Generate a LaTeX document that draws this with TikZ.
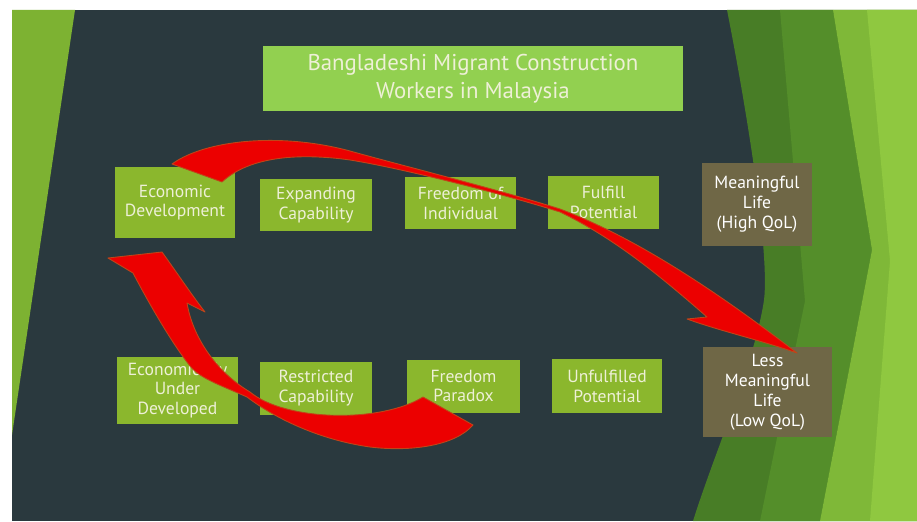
\documentclass[tikz,border=0pt]{standalone}
\usepackage{fontspec}
\setmainfont{PT Sans}
\usetikzlibrary{shapes}
\definecolor{slate}{RGB}{42,57,62}
\definecolor{boxgreen}{RGB}{139,183,45}
\definecolor{titlegreen}{RGB}{146,208,80}
\definecolor{boxbrown}{RGB}{111,103,70}
\definecolor{cream}{RGB}{238,240,215}
\definecolor{darkleaf}{RGB}{72,125,38}
\definecolor{midleaf}{RGB}{84,142,42}
\definecolor{lightleaf}{RGB}{127,184,56}
\definecolor{brightleaf}{RGB}{143,200,64}
\definecolor{edgeleaf}{RGB}{125,178,50}
\definecolor{arrowred}{RGB}{236,0,0}
\definecolor{arrowedge}{RGB}{190,70,25}
\tikzstyle{gbox}=[rectangle,fill=boxgreen,text=cream,align=center,inner sep=2pt,font=\fontsize{10}{11.3}\selectfont]
\tikzstyle{bbox}=[gbox,fill=boxbrown,text=white]
\tikzstyle{tbox}=[gbox,fill=titlegreen,font=\fontsize{13}{16}\selectfont]
\tikzstyle{redarrow}=[fill=arrowred,draw=arrowedge,line width=0.5pt,line join=round]

\begin{document}
\begin{tikzpicture}
\useasboundingbox (0,0) rectangle (18.34,10.42);
\fill[white] (0,0) rectangle (18.34,10.42);
\fill[slate] (0.24,0) rectangle (18.34,10.22);
\fill[edgeleaf] (0.24,10.22) -- (1.50,10.22) -- (0.24,1.72) -- cycle;
\fill[darkleaf] (14.54,10.22) .. controls (14.9,8.4) and (15.4,5.4) .. (15.28,4.42) .. controls (15.1,3.2) and (14.3,1.4) .. (13.86,0) -- (18.34,0) -- (18.34,10.22) -- cycle;
\fill[midleaf] (15.60,10.22) -- (16.66,10.22) -- (17.44,5.42) -- (16.40,0) -- (15.20,0) -- (16.10,4.40) -- cycle;
\fill[lightleaf] (16.66,10.22) -- (18.34,10.22) -- (18.34,0) -- (16.40,0) -- (17.44,5.42) -- cycle;
\fill[brightleaf] (17.34,10.22) -- (18.34,10.22) -- (18.34,0) -- (17.40,0) -- (17.80,5.20) -- cycle;

\node[tbox,minimum width=8.40cm,minimum height=1.30cm] (title) at (9.46,8.84) {Bangladeshi Migrant Construction\\Workers in Malaysia};

\node[gbox,minimum width=2.40cm,minimum height=1.42cm] (ecodev) at (3.50,6.37) {Economic\\Development};
\node[gbox,minimum width=2.24cm,minimum height=1.04cm] (expcap) at (6.32,6.31) {Expanding\\Capability};
\node[gbox,minimum width=2.22cm,minimum height=1.04cm] (freeind) at (9.21,6.36) {Freedom of\\Individual};
\node[gbox,minimum width=2.22cm,minimum height=1.06cm] (fulpot) at (12.07,6.37) {Fulfill\\Potential};
\node[bbox,minimum width=2.20cm,minimum height=1.66cm] (highqol) at (15.14,6.33) {Meaningful\\Life\\(High QoL)};

\node[gbox,minimum width=2.42cm,minimum height=1.34cm] (ecoudev) at (3.55,2.61) {Economically\\Under\\Developed};
\node[gbox,minimum width=2.24cm,minimum height=1.06cm] (rescap) at (6.32,2.65) {Restricted\\Capability};
\node[gbox,minimum width=2.26cm,minimum height=1.06cm] (freepar) at (9.27,2.70) {Freedom\\Paradox};
\node[gbox,minimum width=2.20cm,minimum height=1.08cm] (unfpot) at (12.14,2.70) {Unfulfilled\\Potential};
\node[bbox,minimum width=2.58cm,minimum height=1.80cm] (lowqol) at (15.35,2.58) {Less\\Meaningful\\Life\\(Low QoL)};

\filldraw[redarrow] (3.44,7.14) .. controls (4.1,7.62) and (5.6,7.78) .. (7.0,7.40)
 .. controls (8.0,7.12) and (10.0,6.62) .. (11.2,6.24)
 .. controls (12.5,5.75) and (14.0,4.85) .. (15.94,3.36)
 .. controls (15.2,3.62) and (14.4,3.80) .. (13.74,4.04) -- (14.14,4.08)
 .. controls (13.2,4.90) and (12.3,5.65) .. (11.2,6.18)
 .. controls (10.0,6.56) and (8.0,7.06) .. (7.0,7.22)
 .. controls (6.0,7.36) and (5.0,7.30) .. (4.44,6.78) -- cycle;
\filldraw[redarrow] (2.16,5.26) -- (3.24,5.38)
 .. controls (3.55,4.95) and (3.85,4.50) .. (4.10,4.18) -- (3.74,4.36)
 .. controls (3.85,3.70) and (4.30,3.00) .. (5.00,2.58)
 .. controls (5.70,2.00) and (7.60,1.95) .. (8.46,2.48) -- (9.46,1.92)
 .. controls (9.10,1.50) and (8.20,1.38) .. (7.40,1.48)
 .. controls (6.40,1.62) and (5.50,2.05) .. (4.94,2.48)
 .. controls (4.40,2.72) and (4.00,2.85) .. (3.80,3.10)
 .. controls (3.40,3.60) and (2.90,4.50) .. (2.66,4.96) -- cycle;
\end{tikzpicture}
\end{document}
